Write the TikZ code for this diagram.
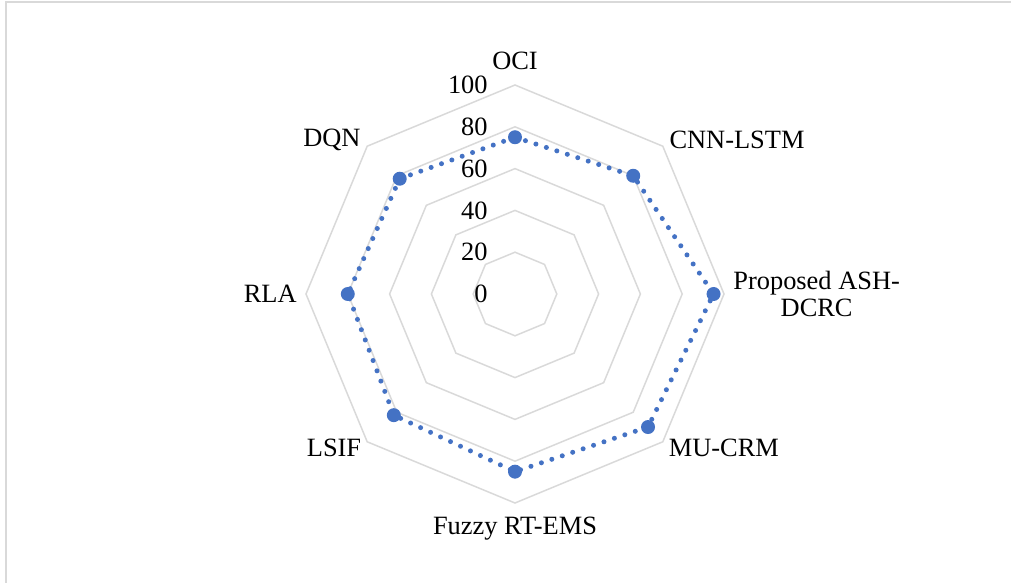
\documentclass[tikz,border=0pt]{standalone}
\usepackage{fontspec}
\setmainfont{Liberation Serif}
\definecolor{gridgray}{RGB}{217, 217, 217}
\definecolor{seriesblue}{RGB}{68, 114, 196}

\begin{document}
\begin{tikzpicture}[x=0.5pt, y=0.5pt, font=\fontsize{13.2pt}{13.5pt}\selectfont,
  ring/.style={draw=gridgray, line width=0.75pt},
  axislabel/.style={inner sep=0pt},
  ticklabel/.style={inner sep=0pt, anchor=east},
  marker/.style={circle, fill=seriesblue, inner sep=0pt, minimum size=7pt}]

  \useasboundingbox (-515,-289) rectangle (496,294);
  \draw[gridgray, line width=1pt] (-508.5,-289) -- (-508.5,291.5) -- (496,291.5);

  \foreach \k in {1,...,5} {
    \pgfmathsetmacro{\r}{41.8*\k}
    \draw[ring] (90:\r) -- (45:\r) -- (0:\r) -- (-45:\r) -- (-90:\r) -- (-135:\r) -- (180:\r) -- (135:\r) -- cycle;
  }

  \foreach \v [count=\k from 0] in {0,20,...,100}
    \node[ticklabel] (t\v) at (-27, 41.8*\k) {\v};

  \foreach \ang/\val [count=\i] in {90/75, 45/80, 0/95, -45/90, -90/85, -135/82, 180/80, 135/78}
    \coordinate (p\i) at (\ang:2.09*\val);

  \draw[seriesblue, line width=2.5pt, line cap=round, dash pattern=on 0pt off 5.5pt]
    (p1) -- (p2) -- (p3) -- (p4) -- (p5) -- (p6) -- (p7) -- (p8) -- cycle;

  \foreach \i in {1,...,8}
    \node[marker] (m\i) at (p\i) {};

  \node[axislabel, anchor=south] (oci) at (90:224) {OCI};
  \node[axislabel, anchor=west] (cnn) at (45:218) {CNN-LSTM};
  \node[axislabel, anchor=west, align=center] (ash) at (0:218) {Proposed ASH-\\DCRC};
  \node[axislabel, anchor=west] (mucrm) at (-45:217) {MU-CRM};
  \node[axislabel, anchor=north] (fuzzy) at (-90:223) {Fuzzy RT-EMS};
  \node[axislabel, anchor=east] (lsif) at (-135:217) {LSIF};
  \node[axislabel, anchor=east] (rla) at (180:218) {RLA};
  \node[axislabel, anchor=east] (dqn) at (135:218) {DQN};
\end{tikzpicture}
\end{document}
